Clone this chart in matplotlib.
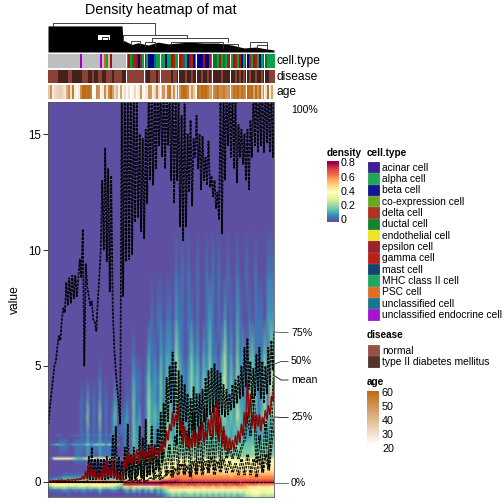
import numpy as np
import matplotlib
matplotlib.use("Agg")
import matplotlib.pyplot as plt
from matplotlib.colors import ListedColormap, LinearSegmentedColormap
from matplotlib.patches import Rectangle

plt.rcParams["font.family"] = ["Liberation Sans", "DejaVu Sans"]

# ---- density matrix, one hex digit per column (0 = 0.0, f = 0.8) ----

Y_LEVELS = [16.5, 11, 9, 7, 5.5, 4.5, 3.5, 2.8, 2.08, 2.0, 1.92, 1.68, 1.6, 1.52, 1.1, 1.0, 0.9, 0.7,
            0.45, 0.25, 0.1, 0.0, -0.1, -0.2, -0.35, -0.5, -0.66]
DENSITY_ROWS = [
    "00000 00000 00000 00000 00000 00000 00000 00000 00000 00000 00000 00000 00000 00000 00000",
    "00000 00000 00000 00000 00000 00000 00000 00000 00000 00000 00000 00000 00000 00000 00000",
    "00000 00000 00000 00000 00000 00000 00000 00000 00101 01001 00101 01001 00100 10010 00111",
    "00000 00000 00000 00000 00000 00000 00001 01101 10211 01101 00121 01020 10210 01011 10222",
    "00000 00000 00000 00000 00000 00010 00021 10212 21421 01312 02131 10241 20312 02311 13143",
    "00000 00000 00000 00100 00000 00021 10131 21313 21532 12423 13242 21351 31422 13321 24154",
    "00000 00000 01020 10201 00200 01031 10142 21314 31532 12423 14242 21352 32422 14331 24155",
    "00000 00000 01030 10301 01301 12031 20142 32314 31432 23323 14232 32342 32532 23331 34244",
    "00000 00000 01020 10201 01201 12032 20142 21324 32332 22322 22333 32323 23232 22322 23233",
    "00011 00011 11121 11211 12110 12032 20142 21324 32332 22322 22333 32323 23232 22322 23233",
    "00000 00000 01020 10201 01200 12032 20142 21324 32332 22322 22333 32323 23232 22322 23233",
    "00001 11001 11121 11211 11100 12032 20142 21324 33333 33333 33333 33333 33333 33333 33333",
    "01232 21122 22242 34342 43320 12032 20142 21324 33333 33333 33333 33333 33333 33333 33333",
    "00001 11001 11121 11211 11100 12032 21132 22324 33433 33433 33433 33433 33433 33433 33433",
    "00000 00001 11021 10211 11100 21133 32243 33344 44544 44444 44444 44444 44444 44444 44444",
    "01677 77764 33597 68767 68760 21133 32243 33345 45666 66666 66666 66666 66566 66666 66666",
    "00000 00001 11021 10211 11100 32134 33254 44456 67777 77777 77777 77777 77677 77777 77777",
    "00000 00000 00010 01000 00000 32134 43354 55567 78888 88888 88888 88888 88888 88888 88888",
    "00000 00000 00000 00000 00000 43245 54465 66678 89999 98999 99899 99989 99999 89999 99999",
    "00000 11111 11111 11111 11100 54456 65676 77889 abbbb bbcbb bbbbb bbbbb abbbb abbbb bbbbb",
    "11222 33333 33344 44444 44331 66778 87888 99abb ccddc ccdcc ccccc ccccc ccccc ccccc ccccc",
    "99abb bbbbb bbccc cccdd ccbba ddddd eeeee eefff fffee eeeee eeeee eeeee eeede eeeee eeeee",
    "66777 77777 77777 77888 77765 fffff fffff fffee eeded deeed deded edded deedd cdddc ccccc",
    "34666 66565 66656 66766 66543 99a99 88988 99aaa bbbbb bbabb babba bbabb babbb a9998 99988",
    "01111 22112 12212 11311 12210 23142 31324 13245 88878 87888 87878 78787 78878 67777 77777",
    "00000 00100 00100 00100 00000 01010 10101 02123 45454 45545 45454 54545 45454 66777 66767",
    "00000 00000 00000 00000 00000 00000 00000 00012 23232 32323 23232 32323 23223 44555 44444",
]

# ---- quantile curves across the columns ----

Q100 = [2.5, 3.2, 3.8, 4.4, 5.0, 5.2, 5.8, 6.3, 6.1, 7.0,
        7.5, 7.3, 8.6, 7.6, 8.8, 7.7, 8.9, 7.9, 8.9, 8.0,
        8.8, 9.6, 8.8, 10.9, 5.0, 9.4, 8.4, 8.0, 7.6, 7.8,
        7.0, 6.9, 6.5, 7.8, 8.8, 10.0, 13.0, 10.0, 14.4, 9.5,
        13.5, 8.2, 13.2, 7.5, 5.8, 4.8, 4.0, 3.4, 2.5, 16.5,
        8.0, 17, 9.5, 17, 9.6, 17, 9.8, 16.6, 11.2, 16.5,
        11.4, 15.0, 10.8, 14.8, 10.5, 15.2, 12.0, 16.8, 13.0, 17,
        12.8, 17, 13.5, 17, 14.5, 17, 14.0, 17, 13.5, 17,
        14.5, 17, 13.0, 17, 12.0, 16.8, 13, 16.4, 11.0, 15.8,
        10.4, 16.3, 11.0, 15.0, 12.5, 15.6, 11.9, 14.8, 14.0, 15.8,
        13.5, 15.0, 12.6, 14.9, 13.0, 14.0, 12.8, 14.7, 12.7, 13.2,
        12.3, 13.0, 11.8, 12.5, 11.3, 16.6, 10.7, 17, 13, 17,
        14.5, 17, 14.0, 16.8, 13.5, 16.4, 12.9, 15.4, 14.0, 15.2,
        13.7, 15.0, 13.0, 15.2, 12.6, 15.6, 14.0, 17, 14.5, 17,
        14.2, 17, 14.5, 17, 14.2, 17, 14.6, 17, 14.2, 17,
        14.0, 17]
Q75 = [0] * 26 + [
        0, 1.1, 0.1, 1.5, 0.1, 1.0, 0.1, 1.0, 0.2, 1.0,
        0.1, 1.0, 0.1, 1.1, 0.1, 1.0, 0.2, 2.0, 0.3, 2.4,
        0.1, 1.1, 0.1, 0.9,
        0.2, 1.5, 0.1, 2.5, 0.2, 1.2, 0.1, 1.5, 0.1, 1.0,
        0.3, 2.4, 0.2, 1.9, 0.1, 2.7, 0.2, 1.6, 0.3, 2.4,
        0.4, 1.6, 0.5, 2.3, 0.5, 3.0, 0.8, 3.4, 1.6, 4.5,
        2.6, 5.0, 3.4, 5.6, 3.0, 5.2, 1.6, 4.8, 2.0, 4.6,
        2.2, 4.2, 2.6, 3.8, 1.8, 3.6, 2.2, 4.1, 2.0, 3.8,
        2.4, 3.8, 2.2, 4.0, 2.6, 4.5, 2.8, 4.8, 2.9, 4.9,
        3.0, 5.1, 3.2, 4.8, 2.8, 4.7, 2.9, 4.2, 2.8, 4.0,
        2.9, 3.8, 3.1, 4.2, 3.2, 4.4, 3.4, 4.6, 3.6, 5.0,
        3.7, 5.8, 4.1, 6.2, 4.0, 5.2, 3.6, 4.9, 3.7, 5.5,
        3.9, 5.8, 3.6, 5.2, 3.4, 5.0, 3.8, 5.8, 4.2, 6.1,
        4.8, 6.5]
Q50 = [0] * 25 + [
        0.1, 0.9, 0.1, 1.0, 0.1, 0.9, 0.2, 1.1, 0.3, 1.3,
        0.2, 1.0, 0.2, 1.4, 0.3, 1.6, 0.3, 2.0, 0.5, 2.5,
        0.4, 2.2, 0.3, 3.0, 0.4, 2.4, 0.5, 3.2, 0.4, 2.2,
        0.5, 2.8, 0.6, 2.2, 1.0, 1.5, 1.0, 1.5, 1.0, 1.5,
        1.8, 3.0, 2.0, 3.8, 0.8, 2.0, 0.5, 2.6, 0.6, 3.0,
        5.0]
Q25 = [0] * 25 + [
        0, 0, 0.1, 0, 0.1, 0, 0.2, 0, 0.1, 0.2,
        0.1, 0.3, 0.1, 0.2, 0.3, 0.5, 0.2, 0.6, 0.3, 0.8,
        0.3, 0.7, 0.2, 0.9, 0.3, 1.0, 0.3, 0.9, 0.4, 1.1,
        0.3, 0.9, 0.4, 1.0, 0.4, 0.9, 0.4, 0.8, 0.3, 1.0,
        0.3, 1.2, 0.3, 1.0, 0.2, 1.1, 0.4, 1.2, 0.5, 1.8,
        2.8]
Q0 = [0, 0]
MEAN = [0.02, 0.05, 0.03, 0.08, 0.04, 0.06, 0.05, 0.09, 0.04, 0.1,
        0.05, 0.08, 0.06, 0.11, 0.06, 0.1, 0.07, 0.12, 0.06, 0.14,
        0.08, 0.16, 0.1, 0.25, 0.12, 0.45, 0.15, 0.8, 0.2, 0.6,
        0.15, 0.5, 0.12, 0.35, 0.1, 0.45, 0.15, 0.7, 0.2, 1.0,
        0.25, 0.6, 0.2, 0.9, 0.15, 0.5, 0.1, 0.3, 0.08, 0.1,
        0.3, 1.0, 0.6, 1.3, 0.8, 1.1, 0.7, 1.2, 0.9, 1.4,
        0.8, 1.3, 1.0, 1.5, 0.9, 1.4, 1.1, 1.3, 0.9, 1.6,
        1.1, 1.5, 1.2, 1.4, 1.0, 1.6, 1.3, 1.8, 1.5, 2.2,
        1.8, 2.5, 2.2, 3.0, 2.4, 2.9, 2.6, 3.3, 2.2, 2.7,
        1.6, 2.4, 1.5, 2.1, 1.4, 1.9, 1.5, 2.3, 1.6, 2.1,
        1.5, 2.4, 1.8, 2.6, 1.7, 2.2, 1.9, 2.7, 2.0, 3.0,
        1.9, 3.3, 2.1, 3.6, 1.8, 2.8, 1.6, 2.4, 1.4, 2.0,
        1.3, 1.9, 1.4, 1.8, 1.4, 2.0, 1.6, 2.2, 1.7, 2.5,
        2.0, 3.0, 2.4, 4.4, 2.8, 3.8, 2.4, 3.0, 2.2, 2.9,
        2.4, 2.9, 2.2, 2.8, 2.5, 3.1, 2.7, 3.3, 2.9, 3.7,
        3.5, 4.5]

# ---- annotation tracks (113 columns, split into slices) ----

SLICE_SIZES = [39, 9, 8, 9, 9, 8, 9, 8, 9, 5]
CELL_TRACK = ("----------------y---------y-pl-g-------"
              "lgludgbdl" "glbbbxll" "llbllgdll" "gdxlbgdbl" "bbbgbbdl"
              "uulgluldg" "lgdlgblg" "bdlgdlbld" "ullll")
DISEASE_TRACK = ("nnnnntttttnntttttnnnttnttnnttnnntnnnntt"[:39] +
                 "nnnnnnnnn" "nttnnntn" "nnnnntnnt" "tttnttntt" "ttnttntn"
                 "ttttntttt" "ttntntnt" "tnttnttnt" "ttnnn")
AGE_TRACK = [35, 50, 25, 30, 32, 33, 34, 30, 27, 42,
             52, 28, 55, 25, 22, 25, 50, 60, 60, 58,
             60, 55, 20, 22, 52, 48, 22, 25, 52, 28,
             52, 60, 45, 30, 38, 22, 45, 24, 30,
             22, 28, 20, 24, 30, 22, 26, 48, 22,
             28, 26, 50, 48, 25, 30, 52, 28,
             30, 48, 28, 55, 58, 30, 50, 24, 55,
             50, 58, 60, 58, 52, 30, 46, 35, 25,
             60, 55, 60, 58, 60, 55, 45, 50,
             52, 55, 58, 50, 52, 55, 50, 48, 52,
             50, 58, 55, 60, 52, 58, 55, 50,
             60, 58, 60, 45, 60, 48, 60, 32, 50,
             28, 58, 24, 45, 22]

CELL_NAMES = ["acinar cell", "alpha cell", "beta cell", "co-expression cell", "delta cell",
              "ductal cell", "endothelial cell", "epsilon cell", "gamma cell", "mast cell",
              "MHC class II cell", "PSC cell", "unclassified cell", "unclassified endocrine cell"]
CELL_COLORS = ["#2E0C8A", "#0C9F47", "#00008B", "#5BA10E", "#A5240F",
               "#007A22", "#EDE111", "#901020", "#B01000", "#003366",
               "#0BA050", "#E06010", "#046A8A", "#A000CC"]
CELL_CODES = "albcdunegmhpxy"
NA_COLOR = "#BEBEBE"
DISEASE_NAMES = ["normal", "type II diabetes mellitus"]
DISEASE_COLORS = ["#8B4236", "#46211A"]
AGE_TICKS = [60, 50, 40, 30, 20]
AGE_TOP = "#BD6C14"
DENSITY_TICKS = [0.8, 0.6, 0.4, 0.2, 0]

# ---- dendrogram, columns across and 0-1 height ----

CANOPY_COL = [0, 37, 37.5, 42, 45, 50, 55, 60, 65, 70, 78, 85, 92, 98, 104, 108, 113]
CANOPY_H = [0.90, 0.90, 0.41, 0.26, 0.32, 0.24, 0.34, 0.28, 0.31, 0.34, 0.31, 0.31, 0.24, 0.14, 0.17, 0.12, 0.07]
NODE_LEFT = [2.5, 37.5, 52, 61.5, 87.5, 101, 104.5, 41.5, 48.5]
NODE_RIGHT = [53.5, 69.5, 90, 87.5, 95, 109.5, 109.5, 46, 53.5]
NODE_TOP = [0.99, 0.58, 0.48, 0.34, 0.28, 0.34, 0.24, 0.38, 0.34]
DROP_LEFT = [0.90, 0.34, 0.34, 0.24, 0.14, 0.17, 0.10, 0.24, 0.20]
DROP_RIGHT = [0.58, 0.48, 0.34, 0.28, 0.14, 0.24, 0.10, 0.24, 0.20]


def px_axes(fig, x0, y0, x1, y1):
    return fig.add_axes([x0 / 504, 1 - y1 / 504, (x1 - x0) / 504, (y1 - y0) / 504])


def draw_track(ax, values, cmap, vmin, vmax, label):
    ax.imshow([values], aspect="auto", cmap=cmap, vmin=vmin, vmax=vmax,
              interpolation="nearest", extent=(0, 113, 0, 1))
    for edge in np.cumsum(SLICE_SIZES)[:-1]:
        ax.axvline(edge, color="white", lw=1)
    ax.axis("off")
    ax.text(1.01, 0.5, label, transform=ax.transAxes, fontsize=12, va="center")


def draw_curve(ax, curve, color, lw, dashes=None):
    # the real curves run over ~1000 columns, so draw each twice, half a step apart
    xs = np.linspace(0, 1, len(curve))
    step = xs[1] - xs[0]
    for shift in (0, step / 2):
        ax.plot(xs + shift, curve, color=color, lw=lw, ls=dashes if dashes else "-")


fig = plt.figure(figsize=(7, 7), dpi=72)

# title
fig.text(161 / 504, 1 - 10 / 504, "Density heatmap of mat", fontsize=14.2, ha="center", va="center")

# dendrogram
ax = px_axes(fig, 48, 23, 274, 52)
ax.fill_between(CANOPY_COL, 0, CANOPY_H, color="black", lw=0)
ax.add_patch(Rectangle((25, 0.41), 6, 0.17, color="white", lw=0))
ax.plot([27, 27, 30, 30], [0.41, 0.52, 0.52, 0.41], color="black", lw=0.8)
for lft, rgt, top, dl, dr in zip(NODE_LEFT, NODE_RIGHT, NODE_TOP, DROP_LEFT, DROP_RIGHT):
    ax.plot([lft, lft, rgt, rgt], [dl, top, top, dr], color="#333333", lw=0.9)
ax.plot([28, 28], [0.99, 1.0], color="#333333", lw=0.9)
ax.set_xlim(0, 113)
ax.set_ylim(0, 1)
ax.axis("off")

# annotation tracks
cell_cmap = ListedColormap([NA_COLOR] + CELL_COLORS)
cell_vals = [CELL_CODES.find(c) + 1 for c in CELL_TRACK]
draw_track(px_axes(fig, 48, 54, 274, 68.5), cell_vals, cell_cmap, 0, 14, "cell.type")
disease_vals = [0 if c == "n" else 1 for c in DISEASE_TRACK]
draw_track(px_axes(fig, 48, 69.5, 274, 83.5), disease_vals, ListedColormap(DISEASE_COLORS), 0, 1, "disease")
age_cmap = LinearSegmentedColormap.from_list("age", ["white", AGE_TOP])
draw_track(px_axes(fig, 48, 84.5, 274, 99), AGE_TRACK, age_cmap, 20, 60, "age")

# main heatmap
ax = px_axes(fig, 48, 102, 274, 497)
density = np.array([[int(ch, 16) * 0.8 / 15 for ch in row.replace(" ", "")] for row in DENSITY_ROWS])
ax.pcolormesh(np.linspace(0, 1, density.shape[1]), Y_LEVELS, density, cmap="Spectral_r",
              vmin=0, vmax=0.8, shading="gouraud", rasterized=True)
for curve in (Q100, Q75, Q50, Q25, Q0):
    draw_curve(ax, curve, "black", 0.9, (0, (3, 1.2)))
draw_curve(ax, MEAN, "#8B0000", 0.85)
ax.set_xlim(0, 1)
ax.set_ylim(-0.647, 16.38)
ax.set_xticks([])
ax.set_yticks([0, 5, 10, 15])
ax.tick_params(axis="y", length=5, width=1, color="#333333", labelsize=11.5, pad=2)
ax.set_ylabel("value", fontsize=12, labelpad=7)
for spine in ax.spines.values():
    spine.set_color("#555555")

# overlay in pixel units for the side labels and legends
ov = fig.add_axes([0, 0, 1, 1], facecolor="none")
ov.set_xlim(0, 504)
ov.set_ylim(504, 0)
ov.axis("off")

ov.text(291, 110, "100%", fontsize=10.5, va="center")
for label, y_edge, y_text, col in [("75%", 332, 332.5, "#666666"), ("50%", 364, 361.5, "#444444"),
                                   ("mean", 376, 380, "#222222"), ("25%", 417, 417.5, "#222222"),
                                   ("0%", 482.5, 482.5, "#666666")]:
    ov.plot([275, 281, 288], [y_edge, y_text, y_text], color=col, lw=0.9)
    ov.text(291, y_text, label, fontsize=10.5, va="center")

# density legend
ov.text(327, 153, "density", fontsize=10, fontweight="bold", va="center")
lax = px_axes(fig, 327, 161, 339, 222)
lax.imshow(np.linspace(0.82, 0, 100)[:, None], aspect="auto", cmap="Spectral_r", vmin=0, vmax=0.8)
lax.axis("off")
for tick, ypx in zip(DENSITY_TICKS, [163.5, 177.7, 191.8, 206, 220]):
    ov.text(341, ypx, str(tick), fontsize=10.8, va="center")
    ov.plot([327, 330], [ypx, ypx], color="white", lw=0.7)
    ov.plot([336, 339], [ypx, ypx], color="white", lw=0.7)

# cell.type legend
ov.text(367, 153, "cell.type", fontsize=10, fontweight="bold", va="center")
for i, (name, col) in enumerate(zip(CELL_NAMES, CELL_COLORS)):
    ov.add_patch(Rectangle((368, 162 + i * 11.33), 10.5, 10.3, facecolor=col, edgecolor=col, lw=0.8, alpha=0.92))
    ov.text(382, 167.7 + i * 11.33, name, fontsize=10.3, va="center")

# disease legend
ov.text(367, 335, "disease", fontsize=10, fontweight="bold", va="center")
for i, (name, col) in enumerate(zip(DISEASE_NAMES, DISEASE_COLORS)):
    ov.add_patch(Rectangle((368, 345 + i * 11.3), 10.5, 10.3, facecolor=col, edgecolor=col, lw=0.8, alpha=0.92))
    ov.text(382, 350.7 + i * 11.3, name, fontsize=10.3, va="center")

# age legend
ov.text(367, 382, "age", fontsize=10, fontweight="bold", va="center")
lax = px_axes(fig, 367, 391, 379, 445)
lax.imshow(np.linspace(61, 29, 100)[:, None], aspect="auto", cmap=age_cmap, vmin=29, vmax=61)
lax.axis("off")
for tick, ypx in zip(AGE_TICKS, [393, 407, 421, 435, 449]):
    ov.text(382, ypx, str(tick), fontsize=10.8, va="center")
    if ypx < 445:
        ov.plot([367, 370], [ypx, ypx], color="white", lw=0.7)
        ov.plot([376, 379], [ypx, ypx], color="white", lw=0.7)

fig.savefig("out.png", dpi=72)
